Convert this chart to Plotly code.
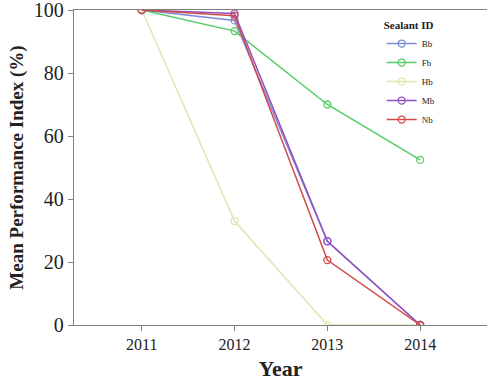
import plotly.graph_objects as go

years = [2011, 2012, 2013, 2014]
series_names = ["Bb", "Fb", "Hb", "Mb", "Nb"]
bb = [100, 96.7, 26.6, 0]
fb = [100, 93.3, 70.0, 52.4]
hb = [100, 33.0, 0, 0]
mb = [100, 98.9, 26.6, 0]
nb = [100, 98.2, 20.6, 0]
values = [bb, fb, hb, mb, nb]
colors = ["#7f8ad6", "#55cc66", "#e4e4b4", "#9052c0", "#d24a4a"]

fig = go.Figure()
for name, vals, col in zip(series_names, values, colors):
    fig.add_trace(go.Scatter(
        x=years, y=vals, name=name, mode="lines+markers",
        line=dict(color=col, width=1.5),
        marker=dict(symbol="circle-open", size=7, color=col, line=dict(width=1.3)),
    ))

axis_common = dict(
    showgrid=False, zeroline=False, showline=True, linecolor="#808080", linewidth=1.3,
    ticks="outside", ticklen=5, tickcolor="#808080",
)
fig.update_layout(
    width=487, height=385,
    margin=dict(l=74, r=0, t=10, b=60),
    paper_bgcolor="white", plot_bgcolor="white",
    font=dict(family="Liberation Serif", color="#222"),
    xaxis=dict(range=[2010.27, 2014.72], tickvals=years, ticktext=[str(y) for y in years],
               tickfont=dict(size=16), mirror=True,
               title=dict(text="<b>Year</b>", font=dict(size=22), standoff=8),
               **axis_common),
    yaxis=dict(range=[0, 100], tickvals=[0, 20, 40, 60, 80, 100],
               tickfont=dict(size=20), mirror=False, ticklabeloverflow="allow",
               title=dict(text="<b>Mean Performance Index (%)</b>", font=dict(size=19), standoff=5),
               **axis_common),
    legend=dict(
        x=0.745, y=0.985, xanchor="left", yanchor="top",
        title=dict(text="<b>Sealant ID</b>", font=dict(size=11)),
        font=dict(size=9), bgcolor="rgba(0,0,0,0)",
        tracegroupgap=0, itemwidth=30,
    ),
)
fig.write_html("out.html")
